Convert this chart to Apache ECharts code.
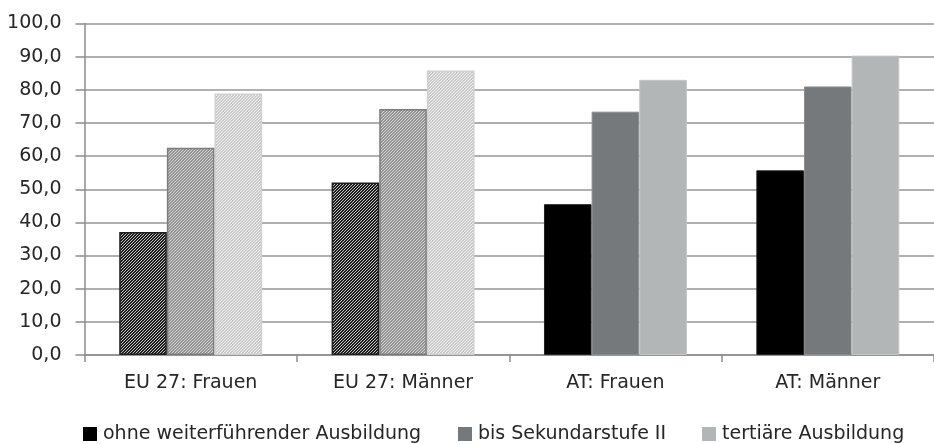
<!DOCTYPE html>
<html>
<head>
<meta charset="utf-8">
<script src="https://cdn.jsdelivr.net/npm/echarts@6/dist/echarts.min.js"></script>
<style>
html,body{margin:0;padding:0;background:#fff;overflow:hidden;}
#chart{width:934px;height:444px;}
</style>
</head>
<body>
<div id="chart"></div>
<script>
const categories = ["EU 27: Frauen", "EU 27: Männer", "AT: Frauen", "AT: Männer"];
const seriesNames = ["ohne weiterführender Ausbildung", "bis Sekundarstufe II", "tertiäre Ausbildung"];
const ohneValues = [37.1, 52.0, 45.5, 55.7];
const sekValues = [62.5, 74.2, 73.4, 81.0];
const tertValues = [78.9, 85.8, 83.0, 90.3];
const hatchedCount = 2; // first two categories (EU 27) drawn hatched

function makePattern(bg, fg) {
  const c = document.createElement('canvas');
  c.width = 3; c.height = 3;
  const ctx = c.getContext('2d');
  ctx.fillStyle = bg; ctx.fillRect(0, 0, 3, 3);
  ctx.fillStyle = fg;
  ctx.fillRect(2, 0, 1, 1);
  ctx.fillRect(1, 1, 1, 1);
  ctx.fillRect(0, 2, 1, 1);
  return {image: c, repeat: 'repeat'};
}

const solidColors = ['#000000', '#76797b', '#b3b6b7'];
const patterns = [
  makePattern('#1a1a1a', '#c8c8c8'),
  makePattern('#939393', '#d6d6d6'),
  makePattern('#cbcbcb', '#efefef')
];
const hatchBorders = ['#1e1e1e', '#7c7c7c', '#d0d0d0'];
const solidBorders = ['#222222', '#8a8d8f', '#c2c4c5'];
const allValues = [ohneValues, sekValues, tertValues];

const FONT = 'DejaVu Sans';
const series = allValues.map((vals, s) => ({
  name: seriesNames[s],
  type: 'bar',
  barGap: '0%',
  barCategoryGap: '32.7%',
  itemStyle: {color: solidColors[s], borderColor: solidBorders[s], borderWidth: 1},
  data: vals.map((v, i) => i < hatchedCount ? {
    value: v,
    itemStyle: {color: patterns[s], borderColor: hatchBorders[s], borderWidth: 1.5}
  } : v)
}));

const legendLefts = [78, 453, 697];
const legends = seriesNames.map((n, i) => ({
  data: [n],
  left: legendLefts[i],
  top: 419,
  icon: 'rect',
  itemWidth: 14,
  itemHeight: 14,
  itemGap: 6,
  itemStyle: {borderWidth: 0},
  textStyle: {fontFamily: FONT, fontSize: 19, color: '#262626', lineHeight: 20, padding: [0, 0, 0, 1]},
  selectedMode: false
}));

const chart = echarts.init(document.getElementById('chart'), null, {renderer: 'canvas'});
chart.setOption({
  animation: false,
  backgroundColor: '#ffffff',
  grid: {left: 84.5, right: -6, top: 23.5, bottom: 89},
  legend: legends,
  xAxis: {
    type: 'category',
    data: categories,
    axisLine: {lineStyle: {color: '#8c8c8c', width: 1.5}},
    axisTick: {show: true, length: 7, lineStyle: {color: '#8c8c8c', width: 1.5}},
    axisLabel: {fontFamily: FONT, fontSize: 19, color: '#262626', margin: 19}
  },
  yAxis: {
    type: 'value',
    min: 0, max: 100, interval: 10,
    axisLine: {show: true, lineStyle: {color: '#8c8c8c', width: 1.5}},
    axisTick: {show: true, length: 9, lineStyle: {color: '#8c8c8c', width: 1.5}},
    splitLine: {lineStyle: {color: '#b0b0b0', width: 2}},
    axisLabel: {
      fontFamily: FONT, fontSize: 19, color: '#262626', margin: 23,
      formatter: v => v.toFixed(1).replace('.', ',')
    }
  },
  series: series
});
</script>
</body>
</html>
